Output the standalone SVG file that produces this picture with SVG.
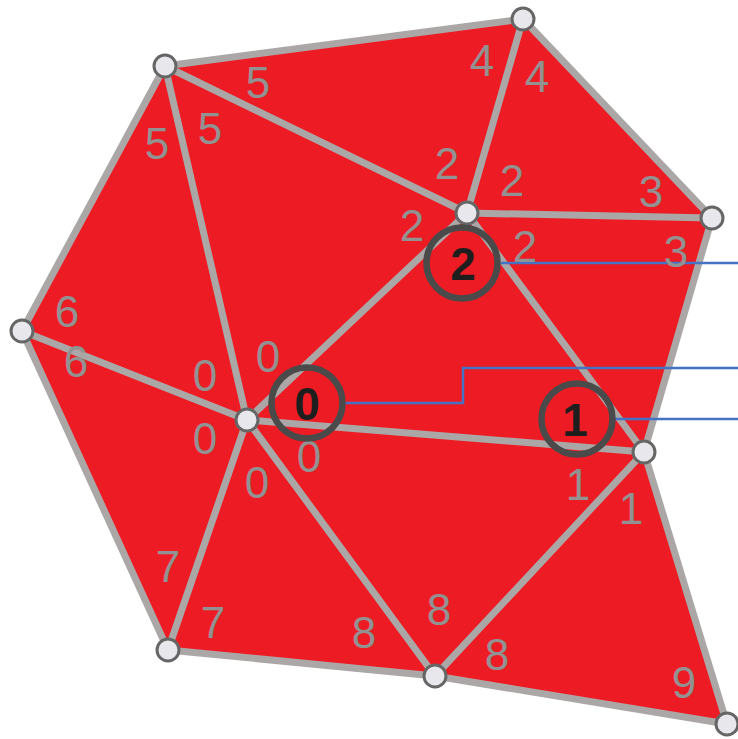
<svg xmlns="http://www.w3.org/2000/svg" width="738" height="739" viewBox="0 0 738 739">
<style>
.fill{fill:#ed1c24;stroke:none}
.edge{stroke:#aba7a7;stroke-width:7;stroke-linecap:round;fill:none}
.v{fill:#e8e8ec;stroke:#666666;stroke-width:3}
.lbl{font-family:"Liberation Sans",Arial,sans-serif;font-size:44px;fill:#929292;text-anchor:middle}
.ring{fill:none;stroke:#4a4a4a;stroke-width:6.5}
.num{font-family:"Liberation Sans",Arial,sans-serif;font-size:46px;font-weight:bold;fill:#1e1e1e;text-anchor:middle}
.lead{stroke:#4472c4;stroke-width:2.5;fill:none}
</style>
<rect width="738" height="739" fill="#ffffff"/>
<polygon class="fill" points="165,66 523,19 712,218 644,452 727,724 435,676 168,650 22,331"/>
<g id="connectors">
<line class="edge" x1="165" y1="66" x2="523" y2="19"/>
<line class="edge" x1="523" y1="19" x2="712" y2="218"/>
<line class="edge" x1="712" y1="218" x2="644" y2="452"/>
<line class="edge" x1="644" y1="452" x2="727" y2="724"/>
<line class="edge" x1="727" y1="724" x2="435" y2="676"/>
<line class="edge" x1="435" y1="676" x2="168" y2="650"/>
<line class="edge" x1="168" y1="650" x2="22" y2="331"/>
<line class="edge" x1="22" y1="331" x2="165" y2="66"/>
<line class="edge" x1="165" y1="66" x2="247" y2="420"/>
<line class="edge" x1="165" y1="66" x2="467" y2="213"/>
<line class="edge" x1="523" y1="19" x2="467" y2="213"/>
<line class="edge" x1="467" y1="213" x2="712" y2="218"/>
<line class="edge" x1="467" y1="213" x2="247" y2="420"/>
<line class="edge" x1="467" y1="213" x2="644" y2="452"/>
<line class="edge" x1="247" y1="420" x2="644" y2="452"/>
<line class="edge" x1="247" y1="420" x2="22" y2="331"/>
<line class="edge" x1="247" y1="420" x2="168" y2="650"/>
<line class="edge" x1="247" y1="420" x2="435" y2="676"/>
<line class="edge" x1="644" y1="452" x2="435" y2="676"/>
<polyline class="lead" points="501,263 738,263"/>
<polyline class="lead" points="343,403 463,403 463,368 738,368"/>
<polyline class="lead" points="613,419 738,419"/>
</g>
<g id="labels">
<text class="lbl" x="258" y="98">5</text>
<text class="lbl" x="157" y="159">5</text>
<text class="lbl" x="210" y="144">5</text>
<text class="lbl" x="482" y="76">4</text>
<text class="lbl" x="537" y="92">4</text>
<text class="lbl" x="447" y="179">2</text>
<text class="lbl" x="512" y="196">2</text>
<text class="lbl" x="412" y="241">2</text>
<text class="lbl" x="525" y="262">2</text>
<text class="lbl" x="651" y="207">3</text>
<text class="lbl" x="676" y="267">3</text>
<text class="lbl" x="67" y="327">6</text>
<text class="lbl" x="76" y="377">6</text>
<text class="lbl" x="268" y="372">0</text>
<text class="lbl" x="205" y="391">0</text>
<text class="lbl" x="205" y="454">0</text>
<text class="lbl" x="309" y="472">0</text>
<text class="lbl" x="257" y="498">0</text>
<text class="lbl" x="578" y="500">1</text>
<text class="lbl" x="631" y="524">1</text>
<text class="lbl" x="168" y="582">7</text>
<text class="lbl" x="213" y="638">7</text>
<text class="lbl" x="364" y="648">8</text>
<text class="lbl" x="439" y="625">8</text>
<text class="lbl" x="497" y="670">8</text>
<text class="lbl" x="684" y="698">9</text>
</g>
<g id="vA"><circle class="v" cx="165" cy="66" r="11"/></g>
<g id="vB"><circle class="v" cx="523" cy="19" r="11"/></g>
<g id="vC"><circle class="v" cx="712" cy="218" r="11"/></g>
<g id="vD"><circle class="v" cx="467" cy="213" r="11"/></g>
<g id="vE"><circle class="v" cx="22" cy="331" r="11"/></g>
<g id="vF"><circle class="v" cx="247" cy="420" r="11"/></g>
<g id="vG"><circle class="v" cx="644" cy="452" r="11"/></g>
<g id="vH"><circle class="v" cx="168" cy="650" r="11"/></g>
<g id="vI"><circle class="v" cx="435" cy="676" r="11"/></g>
<g id="vJ"><circle class="v" cx="727" cy="724" r="11"/></g>
<g id="c2"><circle class="ring" cx="462" cy="263" r="35.5"/><text class="num" x="463" y="280">2</text></g>
<g id="c0"><circle class="ring" cx="307" cy="403" r="35.5"/><text class="num" x="307" y="420">0</text></g>
<g id="c1"><circle class="ring" cx="577" cy="419" r="35.5"/><text class="num" x="575" y="436">1</text></g>
</svg>
